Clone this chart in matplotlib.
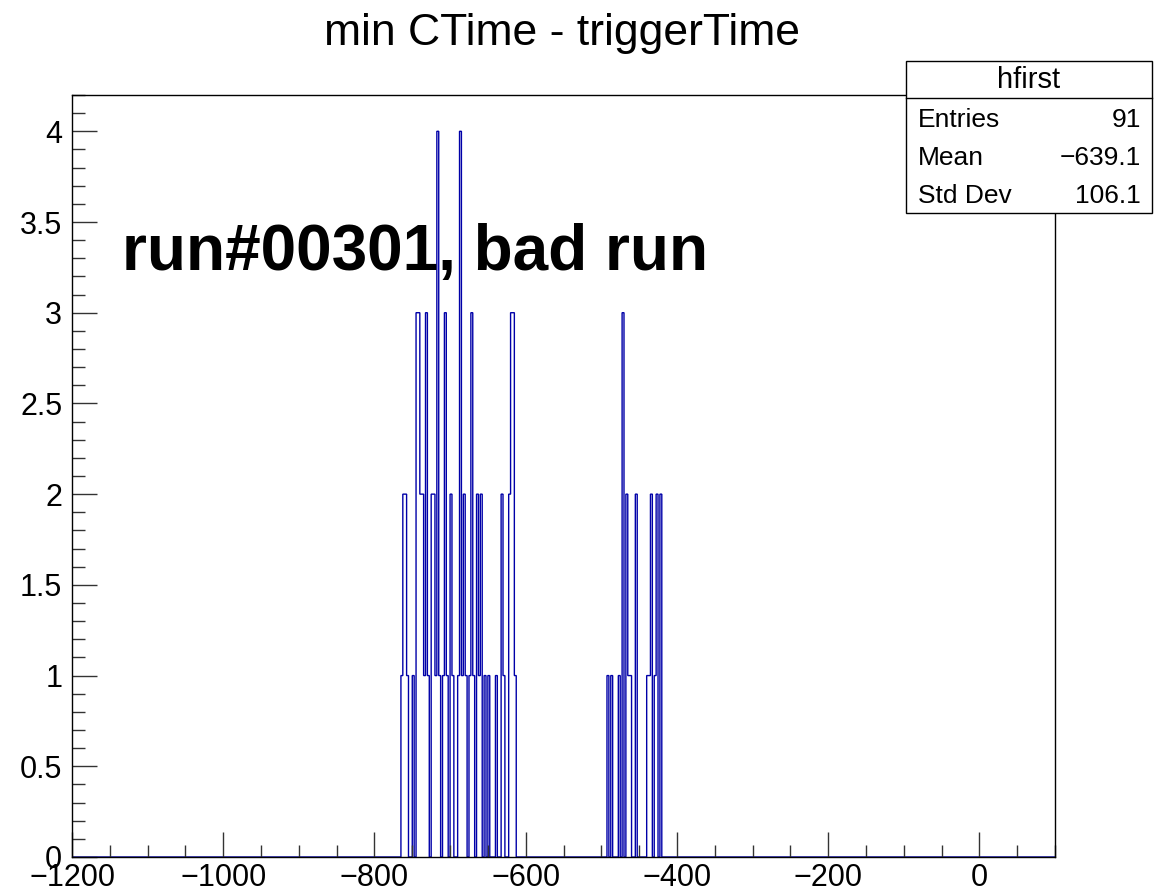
import numpy as np
import matplotlib.pyplot as plt
from matplotlib.patches import Rectangle
from matplotlib.ticker import MultipleLocator

# ---------- data ----------

x_min, x_max, n_bins = -1200, 100, 520

# lower edge of every filled bin and its content
bin_low = [-765, -762.5, -760, -757.5, -750, -745, -742.5, -740, -737.5, -735,
           -732.5, -730, -725, -722.5, -720, -717.5, -715, -710, -707.5, -705,
           -700, -697.5, -690, -687.5, -685, -682.5, -680, -675, -672.5, -670,
           -665, -662.5, -660, -655, -650, -640, -632.5, -630, -622.5, -620,
           -617.5, -615,
           -492.5, -487.5, -477.5, -472.5, -467.5, -465, -462.5, -455, -440,
           -437.5, -435, -430, -427.5, -422.5]
counts = [1, 2, 2, 1, 1, 3, 3, 2, 2, 1,
          3, 1, 2, 2, 1, 4, 1, 1, 3, 1,
          2, 1, 1, 4, 1, 2, 1, 1, 3, 1,
          2, 1, 2, 1, 1, 1, 2, 1, 2, 3,
          3, 1,
          1, 1, 1, 3, 2, 1, 1, 2, 1,
          1, 2, 1, 2, 2]

title = "min CTime - triggerTime"
label = "run#00301, bad run"
stat_name = "hfirst"
stat_rows = ["Entries", "Mean", "Std Dev"]
stat_vals = ["91", "\u2212639.1", "106.1"]

# ---------- plot ----------

plt.rcParams['font.family'] = ['Liberation Sans', 'DejaVu Sans']

edges = np.linspace(x_min, x_max, n_bins + 1)
h = np.zeros(n_bins)
for lo, c in zip(bin_low, counts):
    h[int(round((lo - x_min) / 2.5))] = c

W, H = 1162, 892
fig = plt.figure(figsize=(W / 100, H / 100), dpi=100)
ax = fig.add_axes([72 / W, 1 - 857 / H, (1055 - 72) / W, (857 - 95) / H])

ax.stairs(h, edges, color='#0000a8', lw=1.0, baseline=0)

ax.set_xlim(x_min, x_max)
ax.set_ylim(0, 4.2)
ax.xaxis.set_major_locator(MultipleLocator(200))
ax.xaxis.set_minor_locator(MultipleLocator(50))
ax.yaxis.set_major_locator(MultipleLocator(0.5))
ax.yaxis.set_minor_locator(MultipleLocator(0.1))
ax.set_yticks(np.arange(0, 4.01, 0.5))
ax.set_yticklabels(["0", "0.5", "1", "1.5", "2", "2.5", "3", "3.5", "4"])

ax.tick_params(which='both', direction='in', top=False, right=False,
               labelsize=22, width=1, color='#333333')
ax.tick_params(which='major', length=18)
ax.tick_params(which='minor', length=9)
ax.tick_params(axis='x', pad=4)
ax.tick_params(axis='y', pad=7)
for s in ax.spines.values():
    s.set_linewidth(1)

fig.text(562 / W, 1 - 33 / H, title, ha='center', va='center', fontsize=32)
fig.text(122 / W, 1 - 270 / H, label, ha='left', va='baseline',
         fontsize=46, fontweight='bold')

# stats box
bx0, bx1, by0, by1 = 906, 1152, 61, 213
fig.patches.append(Rectangle((bx0 / W, 1 - by1 / H), (bx1 - bx0) / W, (by1 - by0) / H,
                             transform=fig.transFigure, facecolor='white',
                             edgecolor='black', lw=1, zorder=5))
fig.lines.append(plt.Line2D([bx0 / W, bx1 / W], [1 - 98 / H, 1 - 98 / H],
                            transform=fig.transFigure, color='black', lw=1, zorder=6))
fig.text((bx0 + bx1) / 2 / W, 1 - 80 / H, stat_name, ha='center', va='center',
         fontsize=21, zorder=7)
for i, (r, v) in enumerate(zip(stat_rows, stat_vals)):
    y = 1 - (120 + 38 * i) / H
    fig.text(918 / W, y, r, ha='left', va='center', fontsize=19, zorder=7)
    fig.text(1141 / W, y, v, ha='right', va='center', fontsize=19, zorder=7)

fig.savefig("out.png", dpi=100)
